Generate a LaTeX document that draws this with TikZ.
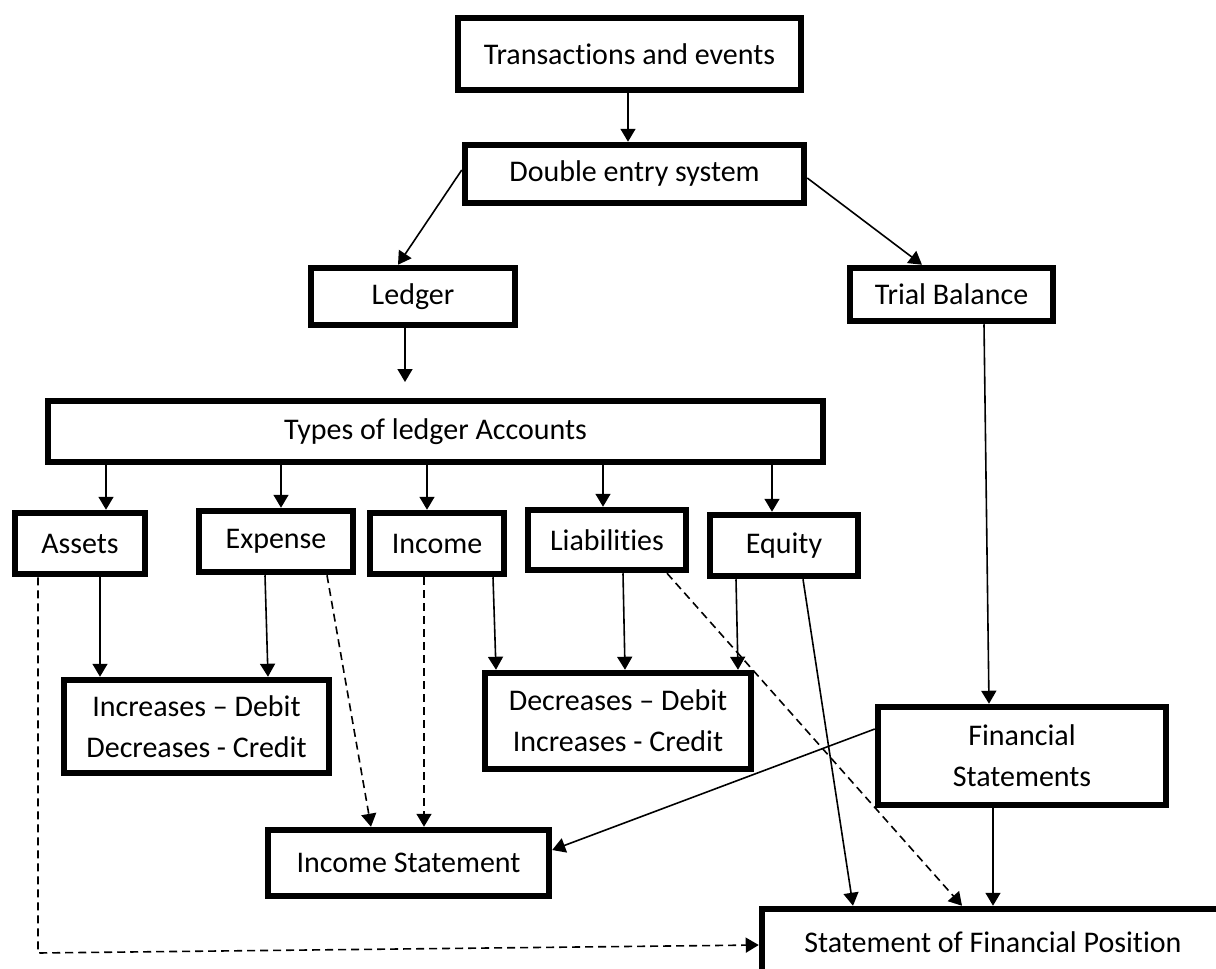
\documentclass[tikz,border=0pt]{standalone}
\usepackage{fontspec}
\setmainfont{Carlito}[Ligatures=NoCommon]
\usetikzlibrary{arrows.meta}

\begin{document}
\begin{tikzpicture}[x=1pt,y=-1pt,
  box/.style={draw=black,line width=6.5pt,fill=white,align=center,inner sep=2pt,
              font=\fontsize{30}{41}\selectfont},
  arr/.style={line width=1.6pt,-{Triangle[length=13pt,width=15pt]}},
  darr/.style={arr,dash pattern=on 8pt off 5pt}]
\useasboundingbox (0,0) rectangle (1216,969);

% boxes
\node[box,minimum width=343,minimum height=72] (te)     at (629.5,54)  {Transactions and events};
\node[box,minimum width=339,minimum height=58] (des)    at (634.5,174) {Double entry system};
\node[box,minimum width=204,minimum height=57] (ledger) at (413,296.5) {Ledger};
\node[box,minimum width=203,minimum height=53] (tb)     at (951.5,294.5) {Trial Balance};
\node[box,minimum width=775,minimum height=61] (types)  at (435.5,431.5) {Types of ledger Accounts};
\node[box,minimum width=130,minimum height=61] (assets) at (80,543.5)  {Assets};
\node[box,minimum width=154,minimum height=61] (expense) at (276,541.5) {Expense};
\node[box,minimum width=134,minimum height=61] (income) at (437,543.5) {Income};
\node[box,minimum width=158,minimum height=60] (liab)   at (607,540)   {Liabilities};
\node[box,minimum width=148,minimum height=61] (equity) at (784,545.5) {Equity};
\node[box,minimum width=265,minimum height=93] (incdr)  at (196.5,726.5) {Increases -- Debit\\Decreases - Credit};
\node[box,minimum width=266,minimum height=96] (decdr)  at (618,721)   {Decreases -- Debit\\Increases - Credit};
\node[box,minimum width=288,minimum height=98] (fs)     at (1022,756)  {Financial\\Statements};
\node[box,minimum width=281,minimum height=66] (is)     at (408.5,863) {Income Statement};
\node[box,minimum width=462,minimum height=66] (sfp)    at (993,942)   {Statement of Financial Position};

\coordinate (lt) at (405,382);
\coordinate (bend) at (38,953);

% solid connectors
\draw[arr] (te.south -| 628,0) -- (des.north -| 628,0);
\draw[arr] (des.west |- 0,170) -- (ledger.north -| 398,0);
\draw[arr] (des.east |- 0,178) -- (tb.north -| 922,0);
\draw[arr] (ledger.south -| 405,0) -- (lt);
\draw[arr] (types.south -| 106,0) -- (assets.north -| 106,0);
\draw[arr] (types.south -| 281,0) -- (expense.north -| 281,0);
\draw[arr] (types.south -| 427,0) -- (income.north -| 427,0);
\draw[arr] (types.south -| 603,0) -- (liab.north -| 603,0);
\draw[arr] (types.south -| 772,0) -- (equity.north -| 772,0);
\draw[arr] (assets.south -| 100,0) -- (incdr.north -| 100,0);
\draw[arr] (expense.south -| 265,0) -- (incdr.north -| 268,0);
\draw[arr] (income.south -| 493,0) -- (decdr.north -| 496,0);
\draw[arr] (liab.south -| 623,0) -- (decdr.north -| 625,0);
\draw[arr] (equity.south -| 736,0) -- (decdr.north -| 738,0);
\draw[arr] (tb.south -| 984,0) -- (fs.north -| 989,0);
\draw[arr] (fs.west |- 0,729) -- (is.east |- 0,850);
\draw[arr] (fs.south -| 993,0) -- (sfp.north -| 993,0);
\draw[arr] (equity.south -| 803,0) -- (sfp.north -| 853,0);

% dashed connectors
\draw[darr] (expense.south -| 327,0) -- (is.north -| 371,0);
\draw[darr] (income.south -| 424,0) -- (is.north -| 424,0);
\draw[darr] (liab.south -| 667,0) -- (sfp.north -| 962,0);
\draw[darr] (assets.south -| bend) -- (bend) -- (sfp.west |- 0,945);
\end{tikzpicture}
\end{document}
